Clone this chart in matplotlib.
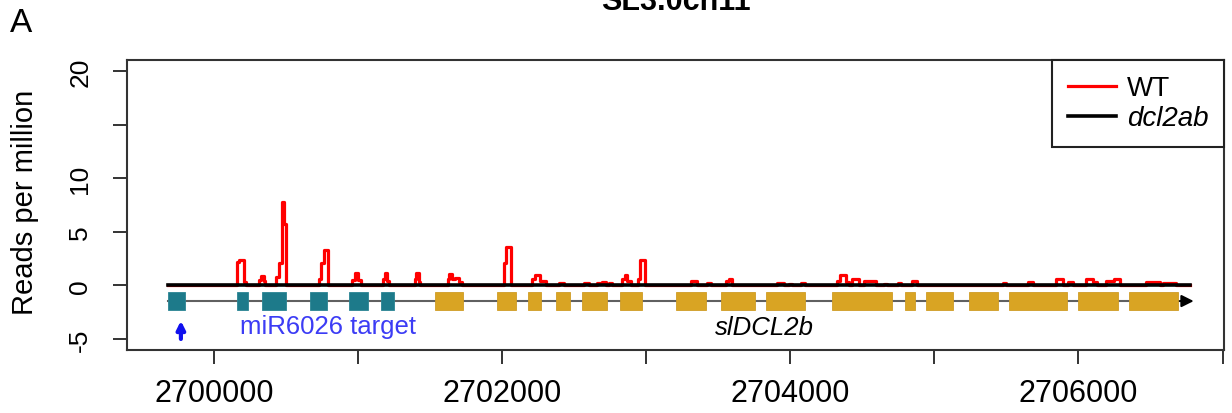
import numpy as np
import matplotlib
matplotlib.use("Agg")
import matplotlib.pyplot as plt
from matplotlib.patches import Rectangle

plt.rcParams['font.family'] = ['Liberation Sans', 'DejaVu Sans']

base = 2700000  # SL3.0ch11 coordinate of the offsets below

# WT small RNA coverage (reads per million), as steps: start, end, value
wt_start = [159, 173, 208, 312, 325, 345, 430, 450, 470, 485,
            728, 742, 762, 956, 977, 998, 1171, 1185, 1200,
            1393, 1405, 1420, 1622, 1635, 1655, 1675, 1700,
            2010, 2030, 2211, 2230, 2260, 2398, 2571, 2661, 2690, 2744,
            2834, 2850, 2870, 2945, 2955, 3313, 3423, 3555, 3575,
            3909, 3992, 4075, 4324, 4345, 4390, 4428, 4511, 4650, 4747, 4844,
            5475, 5648, 5842, 5925, 6050, 6098, 6188, 6250, 6466, 6584]
wt_end = [173, 208, 225, 325, 345, 355, 450, 470, 485, 500,
          742, 762, 790, 977, 998, 1019, 1185, 1200, 1213,
          1405, 1420, 1428, 1635, 1655, 1675, 1700, 1720,
          2030, 2062, 2230, 2260, 2308, 2432, 2606, 2690, 2723, 2765,
          2850, 2870, 2897, 2955, 2995, 3354, 3451, 3575, 3597,
          3957, 4012, 4103, 4345, 4390, 4407, 4477, 4595, 4671, 4768, 4879,
          5495, 5683, 5891, 5960, 6098, 6126, 6250, 6286, 6563, 6674]
wt_rpm = [2.2, 2.4, 0.3, 0.5, 0.9, 0.4, 0.8, 2.1, 7.8, 5.7,
          0.6, 2.1, 3.3, 0.5, 1.2, 0.5, 0.6, 1.2, 0.4,
          0.6, 1.2, 0.3, 0.6, 1.1, 0.6, 0.7, 0.3,
          2.1, 3.6, 0.6, 1.0, 0.4, 0.2, 0.2, 0.2, 0.3, 0.2,
          0.6, 1.0, 0.4, 0.6, 2.4, 0.4, 0.2, 0.4, 0.6,
          0.2, 0.1, 0.2, 0.4, 1.0, 0.3, 0.6, 0.4, 0.1, 0.2, 0.4,
          0.2, 0.3, 0.6, 0.3, 0.6, 0.3, 0.4, 0.6, 0.3, 0.2]

track_start, track_end = -319, 6771

# slDCL2b gene model
teal_start = [-319, 159, 333, 665, 936, 1157]
teal_end = [-201, 236, 499, 783, 1067, 1247]
gold_start = [1532, 1968, 2183, 2377, 2557, 2820, 3209, 3520, 3832, 4290,
              4796, 4941, 5239, 5516, 5994, 6348]
gold_end = [1726, 2100, 2273, 2474, 2730, 2973, 3417, 3756, 4103, 4705,
            4865, 5128, 5440, 5918, 6272, 6694]
gene_end = 6819
mir_site = -229

xticks = [2700000, 2701000, 2702000, 2703000, 2704000, 2705000, 2706000, 2707000]
xticklabels = ['2700000', '', '2702000', '', '2704000', '', '2706000', '']
yticks = [-5, 0, 5, 10, 15, 20]
yticklabels = ['-5', '0', '5', '10', '', '20']


def steps(starts, ends, vals, x0, x1):
    xs, ys = [x0], [0]
    prev = x0
    for s, e, v in zip(starts, ends, vals):
        if s > prev:
            xs += [prev, s]
            ys += [0, 0]
        xs += [s, e]
        ys += [v, v]
        prev = e
    xs += [prev, x1]
    ys += [0, 0]
    return np.array(xs) + base, np.array(ys)


fig = plt.figure(figsize=(12.32, 4.14), dpi=100)
ax = fig.add_axes([127/1232, 1-351/414, 1097/1232, 290/414])

wx, wy = steps(wt_start, wt_end, wt_rpm, track_start, track_end)
ax.plot(wx, wy, color='#ff0000', lw=2.3, label='WT')
ax.plot([track_start + base, track_end + base], [0, 0], color='black', lw=2.6,
        label='dcl2ab')

# gene track
gy, gh = -1.46, 1.76
ax.plot([track_start + base, gold_end[-1] + base], [gy, gy], color='#606060',
        lw=1.5, zorder=1)
ax.annotate('', xy=(gene_end + base, gy), xytext=(gold_end[-1] + base - 10, gy),
            arrowprops=dict(arrowstyle='-|>', color='black', lw=1.5,
                            mutation_scale=18))
for s, e in zip(teal_start, teal_end):
    ax.add_patch(Rectangle((s + base, gy - gh/2), e - s, gh,
                           facecolor='#1d7a8a', edgecolor='#2a8593', lw=0.6,
                           zorder=2))
for s, e in zip(gold_start, gold_end):
    ax.add_patch(Rectangle((s + base, gy - gh/2), e - s, gh,
                           facecolor='#d9a423', edgecolor='#cf9c25', lw=0.6,
                           zorder=2))

# miR6026 cleavage site
ax.annotate('', xy=(mir_site + base, -3.3), xytext=(mir_site + base, -5.0),
            arrowprops=dict(arrowstyle='-|>', color='#1010ee', lw=3,
                            mutation_scale=12, shrinkA=0, shrinkB=0))
ax.text(180 + base, -3.8, 'miR6026 target', color='#3c3cf5', fontsize=18.5,
        ha='left', va='center')
ax.text(3818 + base, -3.85, 'slDCL2b', fontsize=18.5, style='italic',
        ha='center', va='center')

ax.set_xlim(2699397, 2707010)
ax.set_ylim(-6.03, 21.05)
ax.set_xticks(xticks)
ax.set_xticklabels(xticklabels, fontsize=22)
ax.set_yticks(yticks)
ax.set_yticklabels(yticklabels, fontsize=19, rotation=90, va='center')
ax.tick_params(axis='x', length=10, width=1.4, color='#333333', pad=10)
ax.tick_params(axis='y', length=10, width=1.4, color='#333333', pad=15)
for sp in ax.spines.values():
    sp.set_color('#333333')
    sp.set_linewidth(1.5)

leg = ax.legend(loc='upper right', fontsize=20, frameon=True, fancybox=False,
                edgecolor='#222222', framealpha=1, borderaxespad=0,
                handlelength=1.75, handletextpad=0.4, labelspacing=0.15,
                borderpad=0.55)
leg.get_frame().set_linewidth(1.5)
leg.get_texts()[1].set_fontstyle('italic')

fig.text(25/1232, 1-202/414, 'Reads per million', rotation=90, fontsize=21,
         ha='center', va='center')
fig.text(676/1232, 1-10/414, 'SL3.0ch11', fontsize=22, weight='bold',
         ha='center', va='baseline')
fig.text(10/1232, 1-32/414, 'A', fontsize=24, ha='left', va='baseline')

fig.savefig('out.png', dpi=100)
